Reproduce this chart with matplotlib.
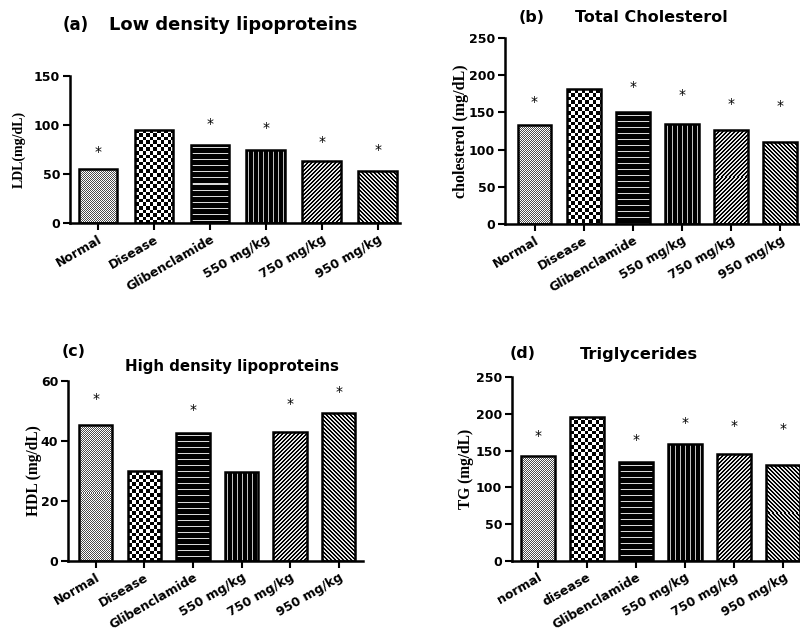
import matplotlib.pyplot as plt
import numpy as np

plt.rcParams['font.family'] = ['DejaVu Sans']

W, H = 800, 641
fig = plt.figure(figsize=(W / 100, H / 100), dpi=100)

groups_a = ["Normal", "Disease", "Glibenclamide", "550 mg/kg", "750 mg/kg", "950 mg/kg"]
groups_d = ["normal", "disease", "Glibenclamide", "550 mg/kg", "750 mg/kg", "950 mg/kg"]

ldl = [55, 95, 80, 74, 63, 53]
ldl_star = [72, None, 101, 97, 83, 74]
chol = [133, 181, 150, 134, 127, 110]
chol_star = [164, None, 184, 173, 161, 159]
hdl = [45.5, 30, 42.8, 29.8, 43, 49.2]
hdl_star = [54, None, 50.3, None, 52.3, 56.3]
tg = [142, 196, 134, 159, 145, 131]
tg_star = [170, None, 164, 187, 183, 179]

patterns = ["fine", "checker", "hlines", "vlines", "diag_up", "diag_dn"]


def pattern(name, h, w):
    r, c = np.indices((h, w))
    if name == "fine":
        return np.where((r + c) % 2 == 0, 0.3, 1.0)
    if name == "checker":
        return np.where((np.floor(r / 3.6) + np.floor(c / 3.6)) % 2 == 0, 0.0, 1.0)
    if name == "hlines":
        return np.where(r % 6 == 3, 0.85, 0.0)
    if name == "vlines":
        return np.where(c % 5 == 2, 0.75, 0.0)
    if name == "diag_up":
        return np.where((r + c) % 4 < 2, 0.9, 0.0)
    return np.where((c - r) % 4 < 2, 0.9, 0.0)


def px_axes(left, right, top, bottom):
    return fig.add_axes([left / W, 1 - bottom / H, (right - left) / W, (bottom - top) / H])


def panel(ax, labels, values, stars, ymax, yticks, xlim, ylabel, label_x, label_size):
    x = np.arange(len(values))
    ax.set_xlim(*xlim)
    ax.set_ylim(0, ymax)
    ax.autoscale(False)
    bars = ax.bar(x, values, width=0.69, facecolor='none', edgecolor='black',
                  linewidth=1.8, zorder=3)
    for bar, pat in zip(bars, patterns):
        x0, x1 = bar.get_x(), bar.get_x() + bar.get_width()
        h = bar.get_height()
        (px0, py0), (px1, py1) = ax.transData.transform([(x0, 0), (x1, h)])
        nw, nh = max(int(round(px1 - px0)), 1), max(int(round(py1 - py0)), 1)
        im = ax.imshow(pattern(pat, nh, nw), cmap='gray', vmin=0, vmax=1,
                       extent=(x0, x1, 0, h), aspect='auto',
                       interpolation='nearest', zorder=2)
        im.set_clip_path(bar)
    for xi, s in zip(x, stars):
        if s is not None:
            ax.text(xi, s, '*', ha='center', va='center', fontsize=10)
    ax.set_xlim(*xlim)
    ax.set_ylim(0, ymax)
    ax.set_yticks(yticks)
    ax.set_xticks(x)
    ax.set_xticklabels(labels, rotation=30, ha='right', rotation_mode='anchor',
                       fontsize=9, fontweight='bold')
    for t in ax.get_yticklabels():
        t.set_fontweight('bold')
        t.set_fontsize(9)
    ax.spines['top'].set_visible(False)
    ax.spines['right'].set_visible(False)
    ax.spines['left'].set_linewidth(1.8)
    ax.spines['bottom'].set_linewidth(1.8)
    ax.tick_params(direction='out', length=5, width=1.5, pad=2)
    ax.set_ylabel(ylabel, family='Liberation Serif', fontweight='bold', fontsize=label_size)
    bb = ax.get_position()
    ax.yaxis.set_label_coords((label_x - bb.x0 * W) / (bb.width * W), 0.5)


ax_a = px_axes(70, 400, 76, 223)
panel(ax_a, groups_a, ldl, ldl_star, 150, [0, 50, 100, 150], (-0.5, 5.4),
      "LDL(mg/dL)", 26, 10)

ax_b = px_axes(505, 800, 38, 224)
panel(ax_b, groups_a, chol, chol_star, 250, [0, 50, 100, 150, 200, 250], (-0.6, 5.4),
      "cholesterol (mg/dL)", 469, 11.5)

ax_c = px_axes(68, 363, 381, 561)
panel(ax_c, groups_a, hdl, hdl_star, 60, [0, 20, 40, 60], (-0.57, 5.5),
      "HDL (mg/dL)", 42, 11.2)

ax_d = px_axes(512, 800, 377, 561)
panel(ax_d, groups_d, tg, tg_star, 250, [0, 50, 100, 150, 200, 250], (-0.53, 5.34),
      "TG (mg/dL)", 474, 11.2)

tkw = dict(fontweight='bold', va='center', ha='left')
fig.text(63 / W, 1 - 25 / H, "(a)", fontsize=12, **tkw)
fig.text(109 / W, 1 - 25 / H, "Low density lipoproteins", fontsize=12.9, **tkw)
fig.text(519 / W, 1 - 18 / H, "(b)", fontsize=11.5, **tkw)
fig.text(575 / W, 1 - 18 / H, "Total Cholesterol", fontsize=11.5, **tkw)
fig.text(62 / W, 1 - 352 / H, "(c)", fontsize=11.5, **tkw)
fig.text(125 / W, 1 - 366 / H, "High density lipoproteins", fontsize=10.8, **tkw)
fig.text(510 / W, 1 - 354 / H, "(d)", fontsize=11.5, **tkw)
fig.text(580 / W, 1 - 355 / H, "Triglycerides", fontsize=11.7, **tkw)

fig.savefig("out.png", dpi=100)
